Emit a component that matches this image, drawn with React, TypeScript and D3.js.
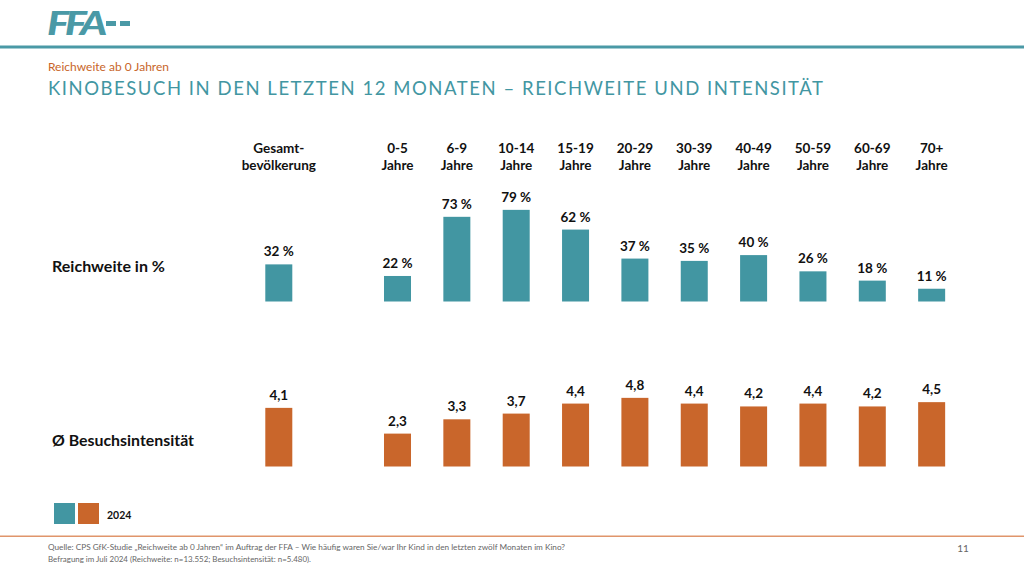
import React from "react";
import * as d3 from "d3";

const categories = ["Gesamt", "0-5", "6-9", "10-14", "15-19", "20-29", "30-39", "40-49", "50-59", "60-69", "70+"];
const headerLine1 = ["Gesamt-", "0-5", "6-9", "10-14", "15-19", "20-29", "30-39", "40-49", "50-59", "60-69", "70+"];
const headerLine2 = ["bevölkerung", "Jahre", "Jahre", "Jahre", "Jahre", "Jahre", "Jahre", "Jahre", "Jahre", "Jahre", "Jahre"];
const reichweite = [32, 22, 73, 79, 62, 37, 35, 40, 26, 18, 11];
const intensitaet = [4.1, 2.3, 3.3, 3.7, 4.4, 4.8, 4.4, 4.2, 4.4, 4.2, 4.5];
const slots = ["Gesamt", "__gap", "0-5", "6-9", "10-14", "15-19", "20-29", "30-39", "40-49", "50-59", "60-69", "70+"];

const TEAL = "#4296a2";
const ORANGE = "#c9662b";
const FONT = "Lato, 'Open Sans', sans-serif";

export default function App() {
  const step = 59.35;
  const x0 = 278.8 - step / 2;
  const x = d3
    .scaleBand<string>()
    .domain(slots)
    .range([x0, x0 + step * slots.length])
    .paddingInner(0.545)
    .paddingOuter(0.2725);
  const yTop = d3.scaleLinear().domain([0, 100]).range([301.5, 185.5]);
  const yBot = d3.scaleLinear().domain([0, 5]).range([466.5, 395]);
  const bw = x.bandwidth();
  const cx = (c: string) => (x(c) as number) + bw / 2;
  const fmt1 = (v: number) => v.toFixed(1).replace(".", ",");

  return (
    <svg
      width={1024}
      height={576}
      viewBox="0 0 1024 576"
      style={{ position: "absolute", left: 0, top: 0, background: "#fff" }}
      fontFamily={FONT}
    >
      <rect width={1024} height={576} fill="#fff" />
      {/* logo */}
      <text x={47} y={35} fontSize={33} fontWeight={900} fontStyle="italic" fill="#4a99a6" letterSpacing={-3.5} textLength={56} lengthAdjust="spacingAndGlyphs">
        FFA
      </text>
      <rect x={106} y={21} width={10} height={5} fill="#4a99a6" />
      <rect x={120} y={21} width={10} height={5} fill="#4a99a6" />
      <rect x={0} y={45.5} width={1024} height={3} fill="#4a99a6" />

      <text x={48} y={71} fontSize={12} fill="#c8652a" textLength={121} lengthAdjust="spacingAndGlyphs">
        Reichweite ab 0 Jahren
      </text>
      <text x={48} y={95} fontSize={18.5} fill="#4296a2" textLength={775} lengthAdjust="spacing">
        KINOBESUCH IN DEN LETZTEN 12 MONATEN – REICHWEITE UND INTENSITÄT
      </text>

      {/* headers */}
      {categories.map((c, i) => (
        <g key={"h" + c} fontSize={13.5} fontWeight={700} fill="#111" textAnchor="middle">
          <text x={cx(c)} y={153}>{headerLine1[i]}</text>
          <text x={cx(c)} y={170}>{headerLine2[i]}</text>
        </g>
      ))}

      {/* row labels */}
      <text x={52} y={272} fontSize={15.5} fontWeight={700} fill="#111" textLength={113} lengthAdjust="spacingAndGlyphs">
        Reichweite in %
      </text>
      <text x={52} y={446} fontSize={15.5} fontWeight={700} fill="#111" textLength={142} lengthAdjust="spacingAndGlyphs">
        Ø Besuchsintensität
      </text>

      {/* top bars */}
      {categories.map((c, i) => (
        <g key={"t" + c}>
          <rect x={x(c)} y={yTop(reichweite[i])} width={bw} height={yTop(0) - yTop(reichweite[i])} fill={TEAL} />
          <text x={cx(c)} y={yTop(reichweite[i]) - 8} textAnchor="middle" fontSize={13.5} fontWeight={700} fill="#111">
            {reichweite[i]} %
          </text>
        </g>
      ))}

      {/* bottom bars */}
      {categories.map((c, i) => (
        <g key={"b" + c}>
          <rect x={x(c)} y={yBot(intensitaet[i])} width={bw} height={yBot(0) - yBot(intensitaet[i])} fill={ORANGE} />
          <text x={cx(c)} y={yBot(intensitaet[i]) - 8} textAnchor="middle" fontSize={13.5} fontWeight={700} fill="#111">
            {fmt1(intensitaet[i])}
          </text>
        </g>
      ))}

      {/* legend */}
      <rect x={54} y={503} width={21} height={21} fill={TEAL} />
      <rect x={78} y={503} width={21} height={21} fill={ORANGE} />
      <text x={107} y={519} fontSize={10.5} fontWeight={700} fill="#111">
        2024
      </text>

      {/* footer */}
      <rect x={0} y={535.5} width={1024} height={1.5} fill="#e0956b" />
      <text x={48} y={550} fontSize={7.5} fill="#666" textLength={517} lengthAdjust="spacingAndGlyphs">
        Quelle: CPS GfK-Studie „Reichweite ab 0 Jahren“ im Auftrag der FFA – Wie häufig waren Sie/war Ihr Kind in den letzten zwölf Monaten im Kino?
      </text>
      <text x={48} y={562} fontSize={7.5} fill="#666" textLength={263} lengthAdjust="spacingAndGlyphs">
        Befragung im Juli 2024 (Reichweite: n=13.552; Besuchsintensität: n=5.480).
      </text>
      <text x={963} y={552} fontSize={10} fill="#666" textAnchor="middle">
        11
      </text>
    </svg>
  );
}
